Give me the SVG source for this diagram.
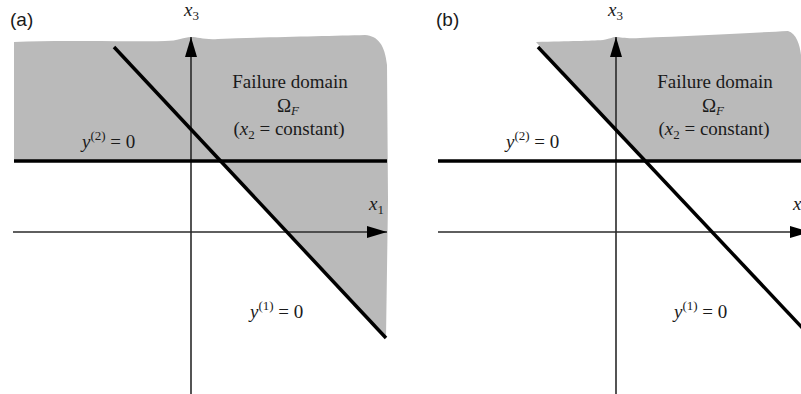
<svg xmlns="http://www.w3.org/2000/svg" width="801" height="394" viewBox="0 0 801 394">
  <style>
    .region { fill: #bababa; stroke: none; }
    .thick { stroke: #000; stroke-width: 3.5; fill: none; }
    .axis { stroke: #2a2a2a; stroke-width: 1.6; fill: none; }
    .lbl { font-family: "Liberation Serif", "Times New Roman", serif; font-size: 19px; fill: #1a1a1a; }
    .it { font-style: italic; }
    .sub { font-size: 13px; }
    .tag { font-family: "Liberation Sans", Arial, sans-serif; font-size: 19px; fill: #1a1a1a; }
  </style>
  <defs>
    <marker id="arrow" markerUnits="userSpaceOnUse" markerWidth="21" markerHeight="12" refX="20" refY="6" orient="auto">
      <path d="M0,0 L20,6 L0,12 Z" fill="#000"/>
    </marker>
  </defs>
  <rect width="801" height="394" fill="#fff"/>

  <g id="panel-a">
    <path id="failure-region-a" class="region" d="M14,42 C 60,40 120,42 165,41 C 178,41 184,37 191,37 C 198,37 204,40 218,39 C 270,37 330,36 365,35 C 378,36 385,45 387,65 L 388,200 L 386,338 L 220.6,161 L 14,161 Z"/>
    <g id="connectors-a">
      <line class="axis" x1="191" y1="394" x2="191" y2="37" marker-end="url(#arrow)"/>
      <line class="axis" x1="13" y1="232" x2="387" y2="232" marker-end="url(#arrow)"/>
      <line class="thick" x1="14" y1="161" x2="387" y2="161"/>
      <line class="thick" x1="114" y1="47" x2="386" y2="338"/>
    </g>
    <g id="labels-a">
      <text class="tag" x="10" y="26">(a)</text>
      <text class="lbl it" x="184" y="16">x<tspan class="sub" dy="4" font-style="normal">3</tspan></text>
      <text class="lbl it" x="369" y="210">x<tspan class="sub" dy="4" font-style="normal">1</tspan></text>
      <text class="lbl" x="290" y="88" text-anchor="middle">Failure domain</text>
      <text class="lbl" x="288" y="112" text-anchor="middle">Ω<tspan class="sub it" dy="3">F</tspan></text>
      <text class="lbl" x="289" y="135" text-anchor="middle">(<tspan class="it">x</tspan><tspan class="sub" dy="4">2</tspan><tspan dy="-4"> = constant)</tspan></text>
      <text class="lbl" x="82" y="148"><tspan class="it">y</tspan><tspan class="sub" dy="-8">(2)</tspan><tspan dy="8"> = 0</tspan></text>
      <text class="lbl" x="250" y="318"><tspan class="it">y</tspan><tspan class="sub" dy="-8">(1)</tspan><tspan dy="8"> = 0</tspan></text>
    </g>
  </g>

  <g id="panel-b">
    <path id="failure-region-b" class="region" d="M536,42 C 570,41 590,41 603,40 C 610,39 612,37 616,37 C 621,37 626,39 640,38 C 690,36 750,33 788,31 C 796,33 800,45 801,55 L 801,161 L 645,161 Z"/>
    <g id="connectors-b">
      <line class="axis" x1="616" y1="394" x2="616" y2="37" marker-end="url(#arrow)"/>
      <line class="axis" x1="438" y1="232" x2="810" y2="232" marker-end="url(#arrow)"/>
      <line class="thick" x1="438" y1="161" x2="801" y2="161"/>
      <line class="thick" x1="538" y1="47" x2="810" y2="336"/>
    </g>
    <g id="labels-b">
      <text class="tag" x="436" y="26">(b)</text>
      <text class="lbl it" x="608" y="16">x<tspan class="sub" dy="4" font-style="normal">3</tspan></text>
      <text class="lbl it" x="793" y="210">x<tspan class="sub" dy="4" font-style="normal">1</tspan></text>
      <text class="lbl" x="715" y="88" text-anchor="middle">Failure domain</text>
      <text class="lbl" x="713" y="112" text-anchor="middle">Ω<tspan class="sub it" dy="3">F</tspan></text>
      <text class="lbl" x="714" y="135" text-anchor="middle">(<tspan class="it">x</tspan><tspan class="sub" dy="4">2</tspan><tspan dy="-4"> = constant)</tspan></text>
      <text class="lbl" x="506" y="148"><tspan class="it">y</tspan><tspan class="sub" dy="-8">(2)</tspan><tspan dy="8"> = 0</tspan></text>
      <text class="lbl" x="674" y="318"><tspan class="it">y</tspan><tspan class="sub" dy="-8">(1)</tspan><tspan dy="8"> = 0</tspan></text>
    </g>
  </g>
</svg>
